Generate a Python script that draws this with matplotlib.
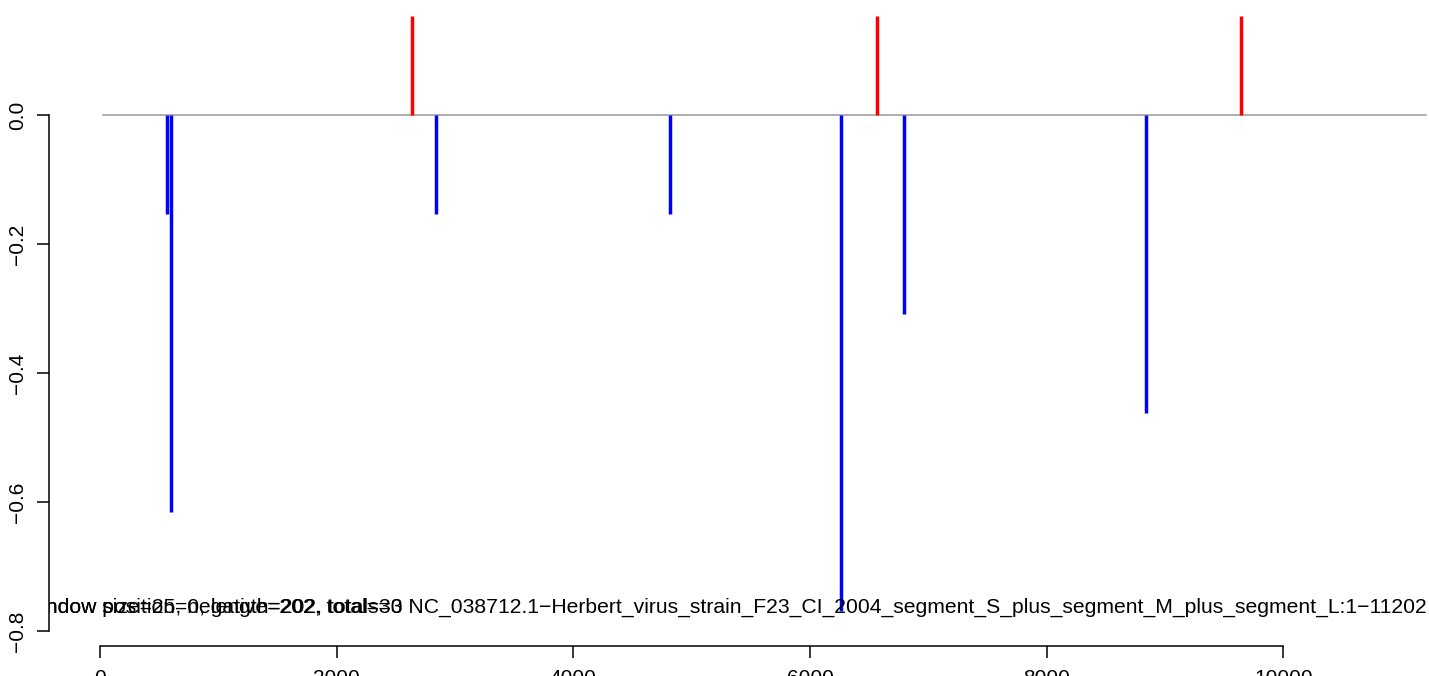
import matplotlib
matplotlib.use("Agg")
import matplotlib.pyplot as plt

plt.rcParams['font.family'] = ['Liberation Sans', 'DejaVu Sans']

# positions (nt) and scores
neg_pos = [566, 596, 2840, 4817, 6265, 6797, 8842]
neg_val = [-0.154, -0.615, -0.154, -0.154, -0.769, -0.308, -0.462]
pos_pos = [2637, 6569, 9645]
pos_val = [0.154, 0.154, 0.154]
seq_start, seq_end = 25, 11202

label_a = "window size=25, negative=202, total=30"
label_b = ("window position=0, length=202, totals=3 "
           "NC_038712.1\u2212Herbert_virus_strain_F23_CI_2004_segment_S_plus_segment_M_plus_segment_L:1\u221211202")

W, H = 1429, 676
fig = plt.figure(figsize=(W / 100, H / 100), dpi=100)
# plot region: left edge at x=49 px, bottom at y=646 px, runs off the right/top of the image
ax = fig.add_axes([49 / W, 30 / H, 1 - 49 / W, 1 - 30 / H])
ax.set_xlim(-431, 11231)
ax.set_ylim(-0.8233, 0.1783)

# baseline
ax.plot([seq_start, seq_end], [0, 0], color='#9a9a9a', lw=1.1, zorder=1)

# histogram-like sticks (R type="h")
ax.vlines(neg_pos, 0, neg_val, color='blue', lw=2.5, zorder=2)
ax.vlines(pos_pos, 0, pos_val, color='red', lw=2.5, zorder=2)

# overlapping annotations, clipped to the plot region like R's text()
for s in (label_a, label_b):
    ax.text(-625, -0.772, s, fontsize=15.2, va='baseline', ha='left', clip_on=True)

# R-style axes: lines only between first and last tick
for side in ('top', 'right'):
    ax.spines[side].set_visible(False)
ax.spines['bottom'].set_bounds(0, 10000)
ax.spines['left'].set_bounds(-0.8, 0)
for side in ('bottom', 'left'):
    ax.spines[side].set_linewidth(1.1)

ax.set_xticks([0, 2000, 4000, 6000, 8000, 10000])
ax.set_yticks([-0.8, -0.6, -0.4, -0.2, 0.0])
ax.set_yticklabels(['\u22120.8', '\u22120.6', '\u22120.4', '\u22120.2', '0.0'],
                   rotation=90, va='center')
ax.tick_params(axis='both', direction='out', length=8.5, width=1.1, labelsize=15)
ax.tick_params(axis='x', pad=8)
ax.tick_params(axis='y', pad=7)

fig.savefig('out.png', dpi=100)
